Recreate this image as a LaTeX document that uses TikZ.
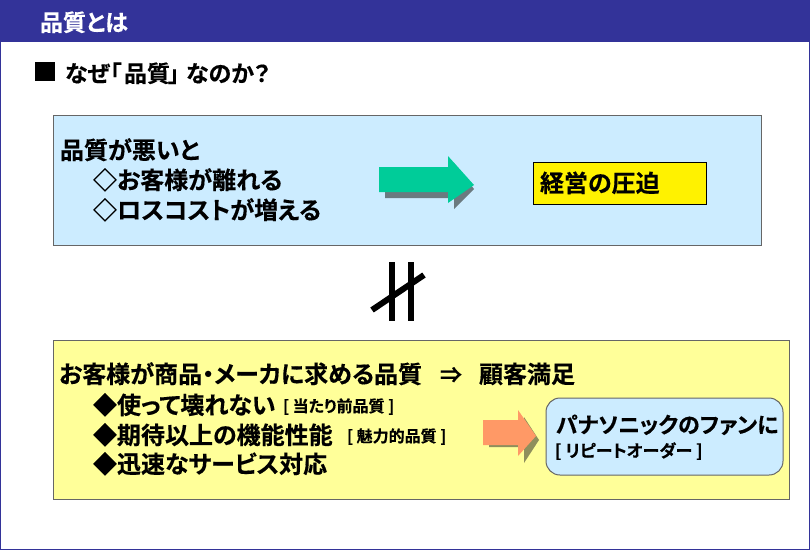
\documentclass[tikz,border=0pt]{standalone}
\usepackage{fontspec}
\setmainfont[RawFeature={+palt},FakeBold=0.4]{Noto Sans CJK JP Bold}
\definecolor{barblue}{HTML}{333399}
\definecolor{lightblue}{HTML}{CCECFF}
\definecolor{lightyellow}{HTML}{FFFF99}
\definecolor{edgegray}{HTML}{666666}
\definecolor{teal}{HTML}{00CC99}
\definecolor{shadowgray}{HTML}{6B7A80}
\definecolor{salmon}{HTML}{FF9966}
\definecolor{shadowolive}{HTML}{8F8F5C}
\tikzset{
  txt/.style={anchor=base west,inner sep=0pt,outer sep=0pt,font=\fontsize{#1}{#1}\selectfont},
  panel/.style={draw=edgegray,line width=1pt,fill=#1},
}
\begin{document}
\begin{tikzpicture}[x=1pt,y=-1pt]
\useasboundingbox (0,0) rectangle (810,550);
\fill[white] (0,0) rectangle (810,550);
\draw[barblue,line width=1pt] (0.5,0.5) rectangle (809.5,549);
\fill[barblue] (0,0) rectangle (810,42);
\node[txt=23,text=white] (title) at (40,31) {品質とは};
\fill[black] (35,62) rectangle (55,81);
\node[txt=23] (q1) at (65,82) {なぜ};
\node[txt=23] (q2) at (110,82) {「};
\node[txt=23] (q3) at (124,82) {品質};
\node[txt=23] (q4) at (168,82) {」};
\node[txt=23] (q5) at (186,82) {なのか？};

\draw[panel=lightblue] (53,115) rectangle (761,245);
\node[txt=24] (a1) at (60,159) {品質が悪いと};
\node[txt=24] (a2) at (93,189) {◇お客様が離れる};
\node[txt=24] (a3) at (93,219) {◇ロスコストが増える};

\fill[shadowgray] (385,173) -- (454,173) -- (454,163) -- (474,189) -- (454,209) -- (454,198) -- (385,198) -- cycle;
\fill[teal] (379,167) -- (448,167) -- (448,156) -- (474,185) -- (448,203) -- (448,192) -- (379,192) -- cycle;

\node[draw=black,line width=0.7pt,fill=yellow,minimum width=173pt,minimum height=42pt,inner sep=0pt,outer sep=0pt] (res) at (619.5,183.5) {};
\node[txt=24] (restext) at (540,192) {経営の圧迫};

\fill[black] (389,262) rectangle (395,321);
\fill[black] (408,262) rectangle (414,321);
\draw[black,line width=6pt] (372,310) -- (424,275);

\draw[panel=lightyellow] (53,340) rectangle (789,499);
\node[txt=24] (b1) at (59,383) {お客様が商品・メーカに求める品質};
\node[txt=22] (b1b) at (440,383) {⇒};
\node[txt=24] (b1c) at (479,383) {顧客満足};
\node[txt=24] (b2) at (93,414) {◆使って壊れない};
\node[txt=16] (b2b) at (283,412) {[ 当たり前品質 ]};
\node[txt=24] (b3) at (93,444) {◆期待以上の機能性能};
\node[txt=16] (b3b) at (347,442) {[ 魅力的品質 ]};
\node[txt=24] (b4) at (93,473) {◆迅速なサービス対応};

\fill[shadowolive] (489,425) -- (524,425) -- (524,417) -- (539,440) -- (524,463) -- (524,447) -- (489,447) -- cycle;
\fill[salmon] (483,420) -- (518,420) -- (518,410) -- (536,436) -- (518,456) -- (518,445) -- (483,445) -- cycle;

\draw[draw=edgegray,line width=1pt,fill=lightblue,rounded corners=14pt] (546,398) rectangle (783,475);
\node[txt=22] (c1) at (556,433) {パナソニックのファンに};
\node[txt=17] (c2) at (555,457) {[ リピートオーダー ]};
\end{tikzpicture}
\end{document}
